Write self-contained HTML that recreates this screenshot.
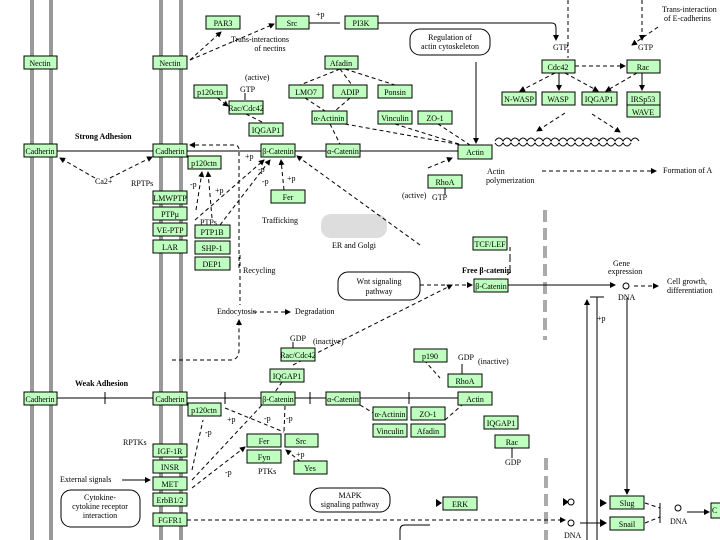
<!DOCTYPE html>
<html><head><style>
html,body{margin:0;padding:0;background:#fff;}
svg{display:block;}
text{font-family:"Liberation Serif",serif;font-size:8px;fill:#000;}
.b{fill:#bfffbf;stroke:#000;stroke-width:1;}
.l{stroke:#000;stroke-width:1;fill:none;}
.d{stroke:#000;stroke-width:1;fill:none;stroke-dasharray:4,3;}
.g{fill:#999;}
</style></head><body>
<svg width="720" height="540" viewBox="0 0 720 540" xmlns="http://www.w3.org/2000/svg">
<defs><marker id="a" markerWidth="6" markerHeight="6" refX="5" refY="3" orient="auto"><path d="M0,0L6,3L0,6z" fill="#000"/></marker></defs>
<!-- membranes -->
<rect class="g" x="30" y="0" width="4" height="540"/><rect class="g" x="49" y="0" width="4" height="540"/>
<rect class="g" x="159" y="0" width="4" height="540"/><rect class="g" x="179" y="0" width="4" height="540"/>
<!-- gray dashed -->
<line x1="545" y1="210" x2="545" y2="340" stroke="#aaa" stroke-width="4" stroke-dasharray="12,6"/>
<line x1="546" y1="458" x2="546" y2="540" stroke="#aaa" stroke-width="4" stroke-dasharray="12,6"/>
<rect x="321" y="214" width="66" height="24" rx="10" fill="#ddd"/>
<!-- solid lines -->
<g class="l">
<line x1="57" y1="151" x2="153" y2="151"/><line x1="187" y1="151" x2="458" y2="151"/>
<line x1="57" y1="398" x2="153" y2="398"/><line x1="187" y1="398" x2="458" y2="398"/>
<line x1="105" y1="392" x2="105" y2="404"/><line x1="225" y1="392" x2="225" y2="404"/><line x1="310" y1="392" x2="310" y2="404"/><line x1="409" y1="392" x2="409" y2="404"/>
<line x1="508" y1="285" x2="615" y2="285" marker-end="url(#a)"/>
<line x1="627" y1="298" x2="627" y2="494" marker-end="url(#a)"/>
<line x1="587" y1="540" x2="587" y2="300" marker-end="url(#a)"/>
<line x1="597" y1="540" x2="597" y2="297"/><line x1="590" y1="297" x2="604" y2="297"/>
<line x1="580" y1="523" x2="605" y2="523" marker-end="url(#a)"/>
<line x1="687" y1="512" x2="709" y2="512" marker-end="url(#a)"/>
<line x1="309" y1="23" x2="340" y2="23"/>
<line x1="375" y1="23" x2="552" y2="23"/><path d="M552,23 Q556,23 556,28 L556,40" marker-end="url(#a)"/>
<line x1="575" y1="66" x2="625" y2="66" stroke-dasharray="4,3" marker-end="url(#a)"/>
<line x1="559" y1="73" x2="559" y2="90" marker-end="url(#a)"/><line x1="642" y1="73" x2="642" y2="90" marker-end="url(#a)"/>
<path d="M476,62 Q476,65 476,70 L476,143" marker-end="url(#a)"/>
<line x1="568" y1="0" x2="568" y2="58" stroke-dasharray="4,3"/>
<path d="M642,0 L642,40" stroke-dasharray="4,3" marker-end="url(#a)"/>
<line x1="293" y1="356" x2="293" y2="342"/><line x1="462" y1="374" x2="462" y2="364"/><line x1="512" y1="448" x2="512" y2="458"/>
<line x1="245" y1="100" x2="245" y2="93"/><line x1="445" y1="188" x2="445" y2="195"/>
</g>
<!-- dashed connectors -->
<g class="d">
<line x1="190" y1="60" x2="221" y2="32" marker-end="url(#a)"/><line x1="190" y1="60" x2="274" y2="24" marker-end="url(#a)"/>
<line x1="95" y1="178" x2="60" y2="158" marker-end="url(#a)"/><line x1="110" y1="178" x2="152" y2="157" marker-end="url(#a)"/>
<path d="M239,268 L239,150 Q239,145 234,145 L190,145" marker-end="url(#a)"/>
<line x1="196" y1="210" x2="202" y2="172" marker-end="url(#a)"/><line x1="212" y1="218" x2="208" y2="172" marker-end="url(#a)"/>
<line x1="195" y1="220" x2="264" y2="160" marker-end="url(#a)"/><line x1="220" y1="225" x2="270" y2="160" marker-end="url(#a)"/>
<line x1="284" y1="190" x2="281" y2="160" marker-end="url(#a)"/>
<line x1="420" y1="245" x2="297" y2="156" marker-end="url(#a)"/>
<line x1="212" y1="94" x2="228" y2="106" marker-end="url(#a)"/><line x1="246" y1="114" x2="262" y2="122"/>
<line x1="428" y1="168" x2="452" y2="158" marker-end="url(#a)"/>
<line x1="432" y1="120" x2="470" y2="145"/><line x1="395" y1="124" x2="462" y2="145"/><line x1="345" y1="124" x2="462" y2="145"/>
<line x1="340" y1="69" x2="300" y2="85"/><line x1="340" y1="69" x2="352" y2="85"/><line x1="345" y1="69" x2="395" y2="85"/>
<line x1="305" y1="98" x2="325" y2="111"/><line x1="350" y1="98" x2="335" y2="111"/><line x1="330" y1="124" x2="340" y2="144"/>
<line x1="555" y1="73" x2="520" y2="91" marker-end="url(#a)"/><line x1="565" y1="73" x2="598" y2="91" marker-end="url(#a)"/><line x1="637" y1="73" x2="606" y2="91" marker-end="url(#a)"/>
<line x1="565" y1="113" x2="537" y2="131" marker-end="url(#a)"/><line x1="592" y1="114" x2="620" y2="132" marker-end="url(#a)"/>
<line x1="542" y1="171" x2="656" y2="171" marker-end="url(#a)"/>
<line x1="658" y1="27" x2="632" y2="45" marker-end="url(#a)"/>
<line x1="510" y1="247" x2="510" y2="258"/><path d="M510,258 L510,270 Q510,275 504,275"/>
<line x1="420" y1="285" x2="472" y2="285" marker-end="url(#a)"/>
<line x1="634" y1="286" x2="658" y2="286" marker-end="url(#a)"/>
<line x1="253" y1="312" x2="290" y2="312" marker-end="url(#a)"/>
<path d="M172,360 L230,360 Q239,360 239,350 L239,320" marker-end="url(#a)"/>
<line x1="240" y1="255" x2="240" y2="305"/>
<line x1="293" y1="365" x2="452" y2="285" marker-end="url(#a)"/>
<line x1="282" y1="382" x2="275" y2="392"/>
<line x1="192" y1="470" x2="203" y2="420"/><line x1="192" y1="480" x2="262" y2="405"/><line x1="192" y1="488" x2="245" y2="447" marker-end="url(#a)"/>
<line x1="225" y1="408" x2="284" y2="432"/><line x1="285" y1="406" x2="284" y2="432"/>
<line x1="306" y1="466" x2="286" y2="450" marker-end="url(#a)"/>
<line x1="187" y1="520" x2="565" y2="520" marker-end="url(#a)"/>
<line x1="360" y1="405" x2="375" y2="414"/><line x1="445" y1="420" x2="462" y2="405"/>
<line x1="424" y1="360" x2="440" y2="378"/>
<line x1="645" y1="503" x2="660" y2="508"/><line x1="645" y1="523" x2="660" y2="517"/>
</g>
<line x1="122" y1="480" x2="150" y2="480" stroke="#000" marker-end="url(#a)"/>
<line x1="660" y1="503" x2="660" y2="523" stroke="#000"/>
<path d="M563,498 L569,502 L563,506z M600,499 L607,503 L600,507z M600,519 L607,523 L600,527z M436,499 L442,503 L436,507z"/>
<!-- circles -->
<g class="l"><circle cx="626" cy="286" r="3"/><circle cx="571" cy="502" r="3"/><circle cx="571" cy="523" r="3"/><circle cx="678" cy="508" r="3"/></g>
<g class="l" stroke-width="0.8"><path d="M495,141 q4,-6 8,0 q4,-6 8,0 q4,-6 8,0 q4,-6 8,0 q4,-6 8,0 q4,-6 8,0 q4,-6 8,0 q4,-6 8,0 q4,-6 8,0 q4,-6 8,0 q4,-6 8,0 q4,-6 8,0 q4,-6 8,0 q4,-6 8,0 q4,-6 8,0 q4,-6 8,0 q4,-6 8,0 q4,-6 8,0"/><path d="M495,143 q4,6 8,0 q4,6 8,0 q4,6 8,0 q4,6 8,0 q4,6 8,0 q4,6 8,0 q4,6 8,0 q4,6 8,0 q4,6 8,0 q4,6 8,0 q4,6 8,0 q4,6 8,0 q4,6 8,0 q4,6 8,0 q4,6 8,0 q4,6 8,0 q4,6 8,0"/></g>
<!-- rounded boxes -->
<g class="l"><rect x="410" y="29" width="80" height="26" rx="10"/><rect x="338" y="272" width="82" height="28" rx="10"/><rect x="61" y="490" width="79" height="37" rx="10"/><rect x="310" y="488" width="80" height="24" rx="10"/><path d="M400,540 L400,530 Q400,525 405,525 L430,525"/></g>
<!-- green boxes -->
<g class="b">
<rect x="206" y="16" width="34" height="13"/><rect x="276" y="16" width="33" height="13"/><rect x="345" y="16" width="33" height="13"/>
<rect x="24" y="56" width="33" height="13"/><rect x="153" y="56" width="34" height="13"/><rect x="325" y="56" width="33" height="13"/>
<rect x="194" y="85" width="33" height="13"/><rect x="229" y="101" width="34" height="13"/><rect x="249" y="123" width="34" height="13"/>
<rect x="289" y="85" width="34" height="13"/><rect x="333" y="85" width="34" height="13"/><rect x="378" y="85" width="34" height="13"/>
<rect x="312" y="111" width="35" height="13"/><rect x="378" y="111" width="34" height="13"/><rect x="418" y="111" width="34" height="13"/>
<rect x="24" y="144" width="33" height="13"/><rect x="153" y="144" width="34" height="13"/><rect x="188" y="156" width="33" height="13"/>
<rect x="261" y="144" width="34" height="13"/><rect x="326" y="144" width="34" height="13"/><rect x="458" y="145" width="34" height="14"/>
<rect x="428" y="175" width="34" height="13"/><rect x="271" y="190" width="34" height="13"/>
<rect x="153" y="191" width="34" height="13"/><rect x="153" y="207" width="34" height="13"/><rect x="153" y="223" width="34" height="13"/><rect x="153" y="240" width="34" height="13"/>
<rect x="195" y="225" width="35" height="13"/><rect x="195" y="241" width="35" height="13"/><rect x="195" y="257" width="35" height="13"/>
<rect x="473" y="237" width="34" height="13"/><rect x="474" y="279" width="34" height="13"/>
<rect x="542" y="60" width="33" height="13"/><rect x="627" y="60" width="33" height="13"/>
<rect x="502" y="92" width="34" height="13"/><rect x="542" y="92" width="33" height="13"/><rect x="582" y="92" width="35" height="13"/><rect x="627" y="92" width="33" height="13"/><rect x="627" y="105" width="33" height="12"/>
<rect x="281" y="348" width="34" height="13"/><rect x="270" y="369" width="34" height="13"/>
<rect x="24" y="392" width="33" height="13"/><rect x="153" y="392" width="34" height="13"/><rect x="188" y="403" width="33" height="13"/>
<rect x="261" y="392" width="34" height="13"/><rect x="326" y="392" width="34" height="13"/><rect x="458" y="392" width="34" height="13"/>
<rect x="414" y="349" width="33" height="13"/><rect x="448" y="374" width="34" height="13"/>
<rect x="373" y="407" width="34" height="13"/><rect x="411" y="407" width="34" height="13"/><rect x="373" y="424" width="34" height="13"/><rect x="411" y="424" width="34" height="13"/>
<rect x="484" y="416" width="34" height="13"/><rect x="495" y="435" width="34" height="13"/>
<rect x="247" y="434" width="34" height="13"/><rect x="285" y="434" width="33" height="13"/><rect x="247" y="450" width="34" height="13"/><rect x="294" y="461" width="33" height="13"/>
<rect x="153" y="444" width="34" height="13"/><rect x="153" y="460" width="34" height="13"/><rect x="153" y="477" width="34" height="13"/><rect x="153" y="493" width="34" height="13"/><rect x="153" y="513" width="34" height="13"/>
<rect x="443" y="497" width="34" height="13"/><rect x="610" y="496" width="34" height="13"/><rect x="610" y="517" width="34" height="13"/><rect x="711" y="503" width="12" height="15"/>
</g>
<!-- box labels -->
<g text-anchor="middle">
<text x="223" y="26">PAR3</text><text x="292" y="26">Src</text><text x="361" y="26">PI3K</text>
<text x="40" y="66">Nectin</text><text x="170" y="66">Nectin</text><text x="341" y="66">Afadin</text>
<text x="210" y="95">p120ctn</text><text x="246" y="111">Rac/Cdc42</text><text x="266" y="133">IQGAP1</text>
<text x="306" y="95">LMO7</text><text x="350" y="95">ADIP</text><text x="395" y="95">Ponsin</text>
<text x="329" y="121">α-Actinin</text><text x="395" y="121">Vinculin</text><text x="435" y="121">ZO-1</text>
<text x="40" y="154">Cadherin</text><text x="170" y="154">Cadherin</text><text x="204" y="166">p120ctn</text>
<text x="278" y="154">β-Catenin</text><text x="343" y="154">α-Catenin</text><text x="475" y="155">Actin</text>
<text x="445" y="185">RhoA</text><text x="288" y="200">Fer</text>
<text x="170" y="201">LMWPTP</text><text x="170" y="217">PTPμ</text><text x="170" y="233">VE-PTP</text><text x="170" y="250">LAR</text>
<text x="212" y="235">PTP1B</text><text x="212" y="251">SHP-1</text><text x="212" y="267">DEP1</text>
<text x="490" y="247">TCF/LEF</text><text x="491" y="289">β-Catenin</text>
<text x="558" y="70">Cdc42</text><text x="643" y="70">Rac</text>
<text x="519" y="102">N-WASP</text><text x="558" y="102">WASP</text><text x="599" y="102">IQGAP1</text><text x="643" y="102">IRSp53</text><text x="643" y="115">WAVE</text>
<text x="298" y="358">Rac/Cdc42</text><text x="287" y="379">IQGAP1</text>
<text x="40" y="402">Cadherin</text><text x="170" y="402">Cadherin</text><text x="204" y="413">p120ctn</text>
<text x="278" y="402">β-Catenin</text><text x="343" y="402">α-Catenin</text><text x="475" y="402">Actin</text>
<text x="430" y="359">p190</text><text x="465" y="384">RhoA</text>
<text x="390" y="417">α-Actinin</text><text x="428" y="417">ZO-1</text><text x="390" y="434">Vinculin</text><text x="428" y="434">Afadin</text>
<text x="501" y="426">IQGAP1</text><text x="512" y="445">Rac</text>
<text x="264" y="444">Fer</text><text x="301" y="444">Src</text><text x="264" y="460">Fyn</text><text x="310" y="471">Yes</text>
<text x="170" y="454">IGF-1R</text><text x="170" y="470">INSR</text><text x="170" y="487">MET</text><text x="170" y="503">ErbB1/2</text><text x="170" y="523">FGFR1</text>
<text x="460" y="507">ERK</text><text x="627" y="506">Slug</text><text x="627" y="527">Snail</text>
<text x="260" y="42">Trans-interactions</text><text x="270" y="51">of nectins</text>
<text x="450" y="40">Regulation of</text><text x="450" y="49">actin cytoskeleton</text>
<text x="379" y="284">Wnt signaling</text><text x="379" y="294">pathway</text>
<text x="100" y="500">Cytokine-</text><text x="100" y="509">cytokine receptor</text><text x="100" y="518">interaction</text>
<text x="350" y="498">MAPK</text><text x="350" y="507">signaling pathway</text>
<text x="354" y="248">ER and Golgi</text>
</g>
<text x="75" y="139" font-weight="bold">Strong Adhesion</text><text x="75" y="386" font-weight="bold">Weak Adhesion</text>
<text x="462" y="273" font-weight="bold">Free β-catenin</text>
<text x="245" y="80">(active)</text><text x="240" y="92">GTP</text>
<text x="95" y="184">Ca2+</text><text x="131" y="186">RPTPs</text><text x="123" y="445">RPTKs</text>
<text x="245" y="159">+p</text><text x="316" y="17">+p</text><text x="258" y="172">-p</text><text x="287" y="181">+p</text><text x="190" y="187">-p</text><text x="215" y="193">+p</text><text x="262" y="184">-p</text>
<text x="200" y="225">PTPs</text><text x="262" y="223">Trafficking</text><text x="243" y="273">Recycling</text>
<text x="217" y="314">Endocytosis</text><text x="295" y="314">Degradation</text>
<text x="290" y="341">GDP</text><text x="313" y="344">(inactive)</text>
<text x="458" y="360">GDP</text><text x="478" y="364">(inactive)</text><text x="505" y="465">GDP</text>
<text x="402" y="198">(active)</text><text x="432" y="200">GTP</text>
<text x="487" y="174">Actin</text><text x="486" y="183">polymerization</text><text x="663" y="173">Formation of A</text>
<text x="553" y="50">GTP</text><text x="638" y="50">GTP</text>
<text x="662" y="12">Trans-interaction</text><text x="664" y="21">of E-cadherins</text>
<text x="613" y="266">Gene</text><text x="608" y="274">expression</text><text x="618" y="300">DNA</text>
<text x="667" y="284">Cell growth,</text><text x="667" y="293">differentiation</text><text x="597" y="321">+p</text>
<text x="60" y="482">External signals</text><text x="258" y="474">PTKs</text>
<text x="227" y="422">+p</text><text x="264" y="421">-p</text><text x="286" y="421">-p</text><text x="205" y="435">-p</text><text x="225" y="475">-p</text><text x="296" y="457">+p</text>
<text x="564" y="538">DNA</text><text x="670" y="524">DNA</text><text x="712" y="513">C</text>
</svg>
</body></html>
